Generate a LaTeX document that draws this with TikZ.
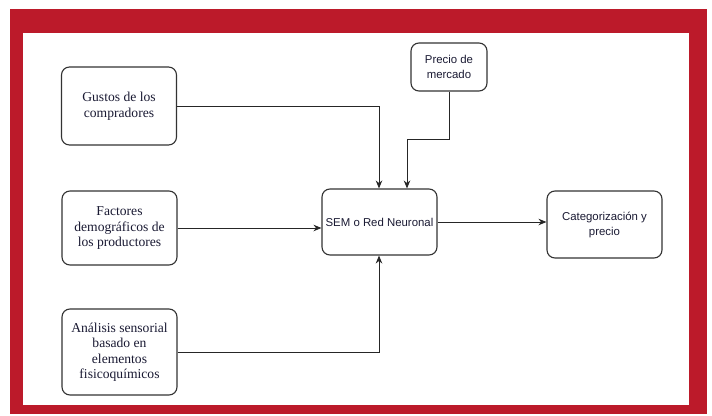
\documentclass[tikz,border=0pt]{standalone}
\usepackage{fontspec}
\setmainfont{Liberation Serif}
\setsansfont{Liberation Sans}
\usetikzlibrary{arrows.meta}
\definecolor{framered}{HTML}{BC1A2A}
\definecolor{boxline}{HTML}{333333}
\definecolor{txt}{HTML}{1A1A33}
\tikzset{
  serifbox/.style={draw=boxline, line width=1.1pt, rounded corners=8pt, fill=white, align=center,
    inner sep=0pt, font=\fontsize{13.6}{15.5}\selectfont, text=txt},
  sansbox/.style={draw=boxline, line width=1.1pt, rounded corners=8pt, fill=white, align=center,
    inner sep=0pt, font=\sffamily\fontsize{11.4}{15}\selectfont, text=txt},
  conn/.style={draw=black!85, line width=0.9pt, -{Stealth[length=8pt,width=6.5pt]}},
  seg/.style={draw=black!85, line width=0.9pt}
}
\begin{document}
\begin{tikzpicture}[x=1pt,y=-1pt]
\useasboundingbox (0,0) rectangle (712,415);
\fill[white] (0,0) rectangle (712,415);
\fill[framered] (10,9) rectangle (707,414);
\fill[white] (23,33) rectangle (689,405);

\node[serifbox, minimum width=115pt, minimum height=78pt] (gus) at (119,106) {Gustos de los\\compradores};
\node[serifbox, minimum width=115pt, minimum height=74pt] (fac) at (119.5,228) {Factores\\demográficos de\\los productores};
\node[serifbox, minimum width=115pt, minimum height=86pt] (ana) at (119.5,352) {Análisis sensorial\\basado en\\elementos\\fisicoquímicos};
\node[sansbox, minimum width=76pt, minimum height=48pt] (pre) at (449,67) {Precio de\\mercado};
\node[sansbox, minimum width=115pt, minimum height=66pt] (sem) at (379.5,222) {SEM o Red Neuronal};
\node[sansbox, minimum width=115pt, minimum height=67pt] (cat) at (604.5,224.5) {Categorización y\\precio};

\coordinate (semtopa) at (379,0);
\coordinate (semtopb) at (407,0);
\coordinate (prebend) at (0,139);

\draw[conn] (gus.east) -| (sem.north -| semtopa);
\draw[conn] (pre.south) -- (pre.south |- prebend) -| (sem.north -| semtopb);
\draw[conn] (fac.east) -- (fac.east -| sem.west);
\draw[conn] (ana.east) -| (sem.south -| semtopa);
\draw[conn] (sem.east) -- (sem.east -| cat.west);
\end{tikzpicture}
\end{document}
